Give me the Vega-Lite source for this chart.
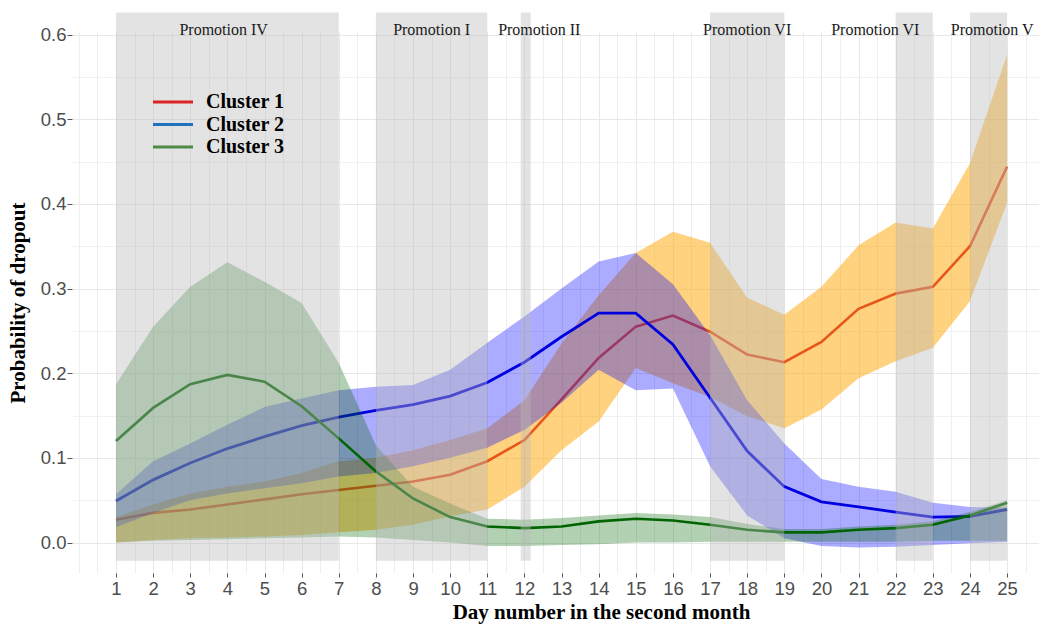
{
  "$schema": "https://vega.github.io/schema/vega-lite/v6.json",
  "width": 967,
  "height": 541,
  "autosize": {"type": "none"},
  "padding": {"left": 72, "top": 32, "right": 0, "bottom": 51},
  "background": "white",
  "config": {"view": {"stroke": null}},
  "resolve": {"axis": {"x": "independent", "y": "independent"}},
  "datasets": {
    "dropout": [
      {"day": 1, "cluster": "Cluster 1", "mean": 0.027, "lower": 0.000, "upper": 0.030},
      {"day": 2, "cluster": "Cluster 1", "mean": 0.035, "lower": 0.003, "upper": 0.045},
      {"day": 3, "cluster": "Cluster 1", "mean": 0.039, "lower": 0.005, "upper": 0.058},
      {"day": 4, "cluster": "Cluster 1", "mean": 0.045, "lower": 0.006, "upper": 0.066},
      {"day": 5, "cluster": "Cluster 1", "mean": 0.051, "lower": 0.007, "upper": 0.072},
      {"day": 6, "cluster": "Cluster 1", "mean": 0.057, "lower": 0.009, "upper": 0.082},
      {"day": 7, "cluster": "Cluster 1", "mean": 0.062, "lower": 0.012, "upper": 0.096},
      {"day": 8, "cluster": "Cluster 1", "mean": 0.067, "lower": 0.015, "upper": 0.100},
      {"day": 9, "cluster": "Cluster 1", "mean": 0.072, "lower": 0.021, "upper": 0.109},
      {"day": 10, "cluster": "Cluster 1", "mean": 0.080, "lower": 0.031, "upper": 0.121},
      {"day": 11, "cluster": "Cluster 1", "mean": 0.096, "lower": 0.039, "upper": 0.135},
      {"day": 12, "cluster": "Cluster 1", "mean": 0.121, "lower": 0.066, "upper": 0.168},
      {"day": 13, "cluster": "Cluster 1", "mean": 0.169, "lower": 0.109, "upper": 0.235},
      {"day": 14, "cluster": "Cluster 1", "mean": 0.218, "lower": 0.143, "upper": 0.292},
      {"day": 15, "cluster": "Cluster 1", "mean": 0.255, "lower": 0.206, "upper": 0.342},
      {"day": 16, "cluster": "Cluster 1", "mean": 0.268, "lower": 0.188, "upper": 0.367},
      {"day": 17, "cluster": "Cluster 1", "mean": 0.249, "lower": 0.172, "upper": 0.354},
      {"day": 18, "cluster": "Cluster 1", "mean": 0.222, "lower": 0.149, "upper": 0.289},
      {"day": 19, "cluster": "Cluster 1", "mean": 0.213, "lower": 0.135, "upper": 0.269},
      {"day": 20, "cluster": "Cluster 1", "mean": 0.237, "lower": 0.157, "upper": 0.302},
      {"day": 21, "cluster": "Cluster 1", "mean": 0.276, "lower": 0.194, "upper": 0.351},
      {"day": 22, "cluster": "Cluster 1", "mean": 0.294, "lower": 0.214, "upper": 0.378},
      {"day": 23, "cluster": "Cluster 1", "mean": 0.302, "lower": 0.230, "upper": 0.371},
      {"day": 24, "cluster": "Cluster 1", "mean": 0.350, "lower": 0.285, "upper": 0.448},
      {"day": 25, "cluster": "Cluster 1", "mean": 0.444, "lower": 0.401, "upper": 0.576},
      {"day": 1, "cluster": "Cluster 2", "mean": 0.049, "lower": 0.018, "upper": 0.057},
      {"day": 2, "cluster": "Cluster 2", "mean": 0.074, "lower": 0.035, "upper": 0.096},
      {"day": 3, "cluster": "Cluster 2", "mean": 0.094, "lower": 0.050, "upper": 0.117},
      {"day": 4, "cluster": "Cluster 2", "mean": 0.111, "lower": 0.058, "upper": 0.139},
      {"day": 5, "cluster": "Cluster 2", "mean": 0.125, "lower": 0.064, "upper": 0.160},
      {"day": 6, "cluster": "Cluster 2", "mean": 0.138, "lower": 0.070, "upper": 0.170},
      {"day": 7, "cluster": "Cluster 2", "mean": 0.148, "lower": 0.078, "upper": 0.180},
      {"day": 8, "cluster": "Cluster 2", "mean": 0.156, "lower": 0.082, "upper": 0.184},
      {"day": 9, "cluster": "Cluster 2", "mean": 0.163, "lower": 0.090, "upper": 0.186},
      {"day": 10, "cluster": "Cluster 2", "mean": 0.173, "lower": 0.100, "upper": 0.204},
      {"day": 11, "cluster": "Cluster 2", "mean": 0.189, "lower": 0.112, "upper": 0.236},
      {"day": 12, "cluster": "Cluster 2", "mean": 0.213, "lower": 0.133, "upper": 0.267},
      {"day": 13, "cluster": "Cluster 2", "mean": 0.243, "lower": 0.165, "upper": 0.300},
      {"day": 14, "cluster": "Cluster 2", "mean": 0.271, "lower": 0.204, "upper": 0.332},
      {"day": 15, "cluster": "Cluster 2", "mean": 0.271, "lower": 0.180, "upper": 0.342},
      {"day": 16, "cluster": "Cluster 2", "mean": 0.234, "lower": 0.182, "upper": 0.305},
      {"day": 17, "cluster": "Cluster 2", "mean": 0.171, "lower": 0.090, "upper": 0.245},
      {"day": 18, "cluster": "Cluster 2", "mean": 0.108, "lower": 0.032, "upper": 0.168},
      {"day": 19, "cluster": "Cluster 2", "mean": 0.066, "lower": 0.005, "upper": 0.117},
      {"day": 20, "cluster": "Cluster 2", "mean": 0.048, "lower": -0.004, "upper": 0.075},
      {"day": 21, "cluster": "Cluster 2", "mean": 0.042, "lower": -0.006, "upper": 0.066},
      {"day": 22, "cluster": "Cluster 2", "mean": 0.036, "lower": -0.005, "upper": 0.060},
      {"day": 23, "cluster": "Cluster 2", "mean": 0.030, "lower": -0.003, "upper": 0.047},
      {"day": 24, "cluster": "Cluster 2", "mean": 0.031, "lower": -0.001, "upper": 0.042},
      {"day": 25, "cluster": "Cluster 2", "mean": 0.039, "lower": 0.001, "upper": 0.041},
      {"day": 1, "cluster": "Cluster 3", "mean": 0.120, "lower": 0.000, "upper": 0.187},
      {"day": 2, "cluster": "Cluster 3", "mean": 0.159, "lower": 0.002, "upper": 0.255},
      {"day": 3, "cluster": "Cluster 3", "mean": 0.187, "lower": 0.003, "upper": 0.302},
      {"day": 4, "cluster": "Cluster 3", "mean": 0.198, "lower": 0.004, "upper": 0.331},
      {"day": 5, "cluster": "Cluster 3", "mean": 0.190, "lower": 0.005, "upper": 0.308},
      {"day": 6, "cluster": "Cluster 3", "mean": 0.161, "lower": 0.006, "upper": 0.283},
      {"day": 7, "cluster": "Cluster 3", "mean": 0.123, "lower": 0.007, "upper": 0.212},
      {"day": 8, "cluster": "Cluster 3", "mean": 0.084, "lower": 0.006, "upper": 0.115},
      {"day": 9, "cluster": "Cluster 3", "mean": 0.052, "lower": 0.003, "upper": 0.066},
      {"day": 10, "cluster": "Cluster 3", "mean": 0.030, "lower": 0.000, "upper": 0.046},
      {"day": 11, "cluster": "Cluster 3", "mean": 0.019, "lower": -0.004, "upper": 0.028},
      {"day": 12, "cluster": "Cluster 3", "mean": 0.017, "lower": -0.004, "upper": 0.027},
      {"day": 13, "cluster": "Cluster 3", "mean": 0.019, "lower": -0.003, "upper": 0.029},
      {"day": 14, "cluster": "Cluster 3", "mean": 0.025, "lower": -0.002, "upper": 0.032},
      {"day": 15, "cluster": "Cluster 3", "mean": 0.028, "lower": 0.000, "upper": 0.035},
      {"day": 16, "cluster": "Cluster 3", "mean": 0.026, "lower": 0.000, "upper": 0.033},
      {"day": 17, "cluster": "Cluster 3", "mean": 0.021, "lower": 0.001, "upper": 0.030},
      {"day": 18, "cluster": "Cluster 3", "mean": 0.015, "lower": 0.001, "upper": 0.022},
      {"day": 19, "cluster": "Cluster 3", "mean": 0.012, "lower": 0.001, "upper": 0.016},
      {"day": 20, "cluster": "Cluster 3", "mean": 0.012, "lower": 0.001, "upper": 0.016},
      {"day": 21, "cluster": "Cluster 3", "mean": 0.015, "lower": 0.001, "upper": 0.019},
      {"day": 22, "cluster": "Cluster 3", "mean": 0.017, "lower": 0.001, "upper": 0.021},
      {"day": 23, "cluster": "Cluster 3", "mean": 0.021, "lower": 0.002, "upper": 0.025},
      {"day": 24, "cluster": "Cluster 3", "mean": 0.032, "lower": 0.002, "upper": 0.036},
      {"day": 25, "cluster": "Cluster 3", "mean": 0.047, "lower": 0.002, "upper": 0.050}
    ],
    "promotions": [
      {"label": "Promotion IV", "start": 1, "end": 7, "label_day": 3.9},
      {"label": "Promotion I", "start": 8, "end": 11, "label_day": 9.5},
      {"label": "Promotion II", "start": 11.9, "end": 12.17, "label_day": 12.4},
      {"label": "Promotion VI", "start": 17, "end": 19, "label_day": 18},
      {"label": "Promotion VI", "start": 22, "end": 23, "label_day": 21.45},
      {"label": "Promotion V", "start": 24, "end": 25, "label_day": 24.6}
    ]
  },
  "layer": [
    {
      "data": {"name": "dropout"},
      "transform": [{"filter": "datum.cluster === 'Cluster 1'"}],
      "mark": {"type": "area", "color": "#FFA500", "opacity": 0.5},
      "encoding": {
        "x": {
          "field": "day",
          "type": "quantitative",
          "scale": {"domain": [-0.185, 25.86], "nice": false, "zero": false},
          "axis": {
            "title": "Day number in the second month",
            "orient": "bottom",
            "values": [1, 2, 3, 4, 5, 6, 7, 8, 9, 10, 11, 12, 13, 14, 15, 16, 17, 18, 19, 20, 21, 22, 23, 24, 25],
            "format": "d",
            "domain": false,
            "grid": true,
            "gridColor": "#e8e8e8",
            "gridWidth": 1,
            "tickSize": 4,
            "tickColor": "#555555",
            "labelFont": "Liberation Sans",
            "labelFontSize": 18.5,
            "labelColor": "#4d4d4d",
            "labelPadding": 2,
            "labelOverlap": false,
            "labelFlush": false,
            "titleFont": "Liberation Serif",
            "titleFontSize": 21,
            "titleFontWeight": "bold",
            "titleColor": "#000000",
            "titleX": 529,
            "titleY": 39,
            "titleBaseline": "middle"
          }
        },
        "y": {
          "field": "lower",
          "type": "quantitative",
          "scale": {"domain": [-0.036, 0.603], "nice": false, "zero": false},
          "axis": {
            "title": "Probability of dropout",
            "orient": "left",
            "values": [0, 0.1, 0.2, 0.3, 0.4, 0.5, 0.6],
            "format": ".1f",
            "domain": false,
            "grid": true,
            "gridColor": "#e8e8e8",
            "gridWidth": 1,
            "tickSize": 5,
            "tickColor": "#555555",
            "labelFont": "Liberation Sans",
            "labelFontSize": 18.5,
            "labelColor": "#4d4d4d",
            "labelPadding": 1,
            "labelOverlap": false,
            "labelFlush": false,
            "titleFont": "Liberation Serif",
            "titleFontSize": 21,
            "titleFontWeight": "bold",
            "titleColor": "#000000",
            "titlePadding": 12
          }
        },
        "y2": {"field": "upper"}
      }
    },
    {
      "data": {"name": "dropout"},
      "transform": [{"filter": "datum.cluster === 'Cluster 1'"}],
      "mark": {"type": "line", "strokeWidth": 2.6, "color": "#E8561A"},
      "encoding": {
        "x": {
          "field": "day",
          "type": "quantitative",
          "axis": {
            "orient": "top",
            "title": null,
            "values": [0, 0.5, 1.5, 2.5, 3.5, 4.5, 5.5, 6.5, 7.5, 8.5, 9.5, 10.5, 11.5, 12.5, 13.5, 14.5, 15.5, 16.5, 17.5, 18.5, 19.5, 20.5, 21.5, 22.5, 23.5, 24.5, 25.5],
            "domain": false,
            "ticks": false,
            "labels": false,
            "grid": true,
            "gridColor": "#eeeeee",
            "gridWidth": 1
          }
        },
        "y": {
          "field": "mean",
          "type": "quantitative",
          "axis": {
            "orient": "right",
            "title": null,
            "values": [0.05, 0.15, 0.25, 0.35, 0.45, 0.55],
            "domain": false,
            "ticks": false,
            "labels": false,
            "grid": true,
            "gridColor": "#f1f1f1",
            "gridWidth": 1
          }
        }
      }
    },
    {
      "data": {"name": "dropout"},
      "transform": [{"filter": "datum.cluster === 'Cluster 2'"}],
      "mark": {"type": "area", "color": "#0000FF", "opacity": 0.33},
      "encoding": {
        "x": {"field": "day", "type": "quantitative", "axis": null},
        "y": {"field": "lower", "type": "quantitative", "axis": null},
        "y2": {"field": "upper"}
      }
    },
    {
      "data": {"name": "dropout"},
      "transform": [{"filter": "datum.cluster === 'Cluster 2'"}],
      "mark": {"type": "line", "strokeWidth": 2.8, "color": "#0000E0"},
      "encoding": {
        "x": {"field": "day", "type": "quantitative", "axis": null},
        "y": {"field": "mean", "type": "quantitative", "axis": null}
      }
    },
    {
      "data": {"name": "dropout"},
      "transform": [{"filter": "datum.cluster === 'Cluster 3'"}],
      "mark": {"type": "area", "color": "#006400", "opacity": 0.3},
      "encoding": {
        "x": {"field": "day", "type": "quantitative", "axis": null},
        "y": {"field": "lower", "type": "quantitative", "axis": null},
        "y2": {"field": "upper"}
      }
    },
    {
      "data": {"name": "dropout"},
      "transform": [{"filter": "datum.cluster === 'Cluster 3'"}],
      "mark": {"type": "line", "strokeWidth": 2.6, "color": "#006400"},
      "encoding": {
        "x": {"field": "day", "type": "quantitative", "axis": null},
        "y": {"field": "mean", "type": "quantitative", "axis": null}
      }
    },
    {
      "data": {"name": "promotions"},
      "mark": {"type": "rect", "color": "#b8b8b8", "opacity": 0.4, "clip": false},
      "encoding": {
        "x": {"field": "start", "type": "quantitative", "axis": null},
        "x2": {"field": "end"},
        "y": {"datum": -0.0216, "type": "quantitative", "axis": null},
        "y2": {"datum": 0.626}
      }
    },
    {
      "data": {"name": "promotions"},
      "mark": {"type": "text", "font": "Liberation Serif", "fontSize": 16, "color": "#1a1a1a", "baseline": "alphabetic", "align": "center", "clip": false},
      "encoding": {
        "x": {"field": "label_day", "type": "quantitative", "axis": null},
        "y": {"datum": 0.6, "type": "quantitative", "axis": null},
        "text": {"field": "label"}
      }
    },
    {
      "data": {"name": "dropout"},
      "transform": [{"filter": "datum.day > 100"}],
      "mark": {"type": "line", "strokeWidth": 3},
      "encoding": {
        "x": {"field": "day", "type": "quantitative", "axis": null},
        "y": {"field": "mean", "type": "quantitative", "axis": null},
        "color": {
          "field": "cluster",
          "type": "nominal",
          "scale": {"domain": ["Cluster 1", "Cluster 2", "Cluster 3"], "range": ["#DD2222", "#1F73BE", "#4E8C46"]},
          "legend": {
            "title": null,
            "orient": "none",
            "legendX": 91,
            "legendY": 60,
            "padding": 0,
            "symbolType": "M-4,0H4",
            "symbolSize": 100,
            "symbolStrokeWidth": 3,
            "labelFont": "Liberation Serif",
            "labelFontSize": 20,
            "labelFontWeight": "bold",
            "labelColor": "#000000",
            "labelOffset": 23,
            "rowPadding": 2.5
          }
        }
      }
    }
  ]
}
